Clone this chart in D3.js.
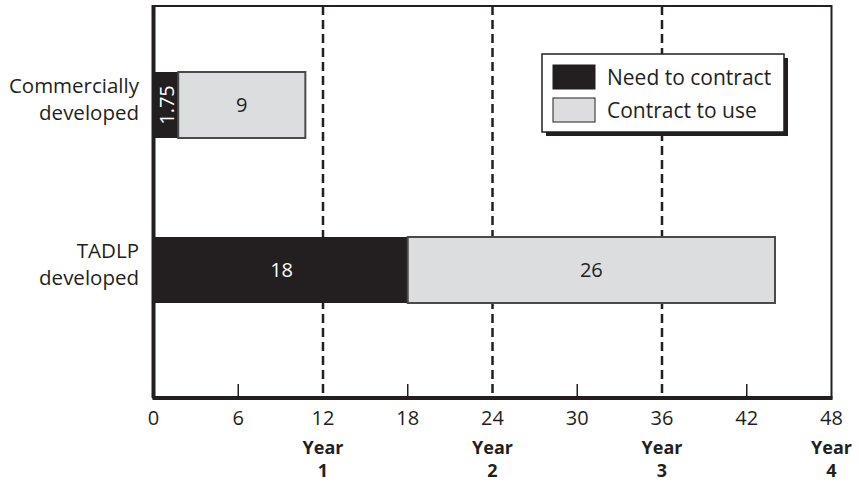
<!DOCTYPE html>
<html>
<head>
<meta charset="utf-8">
<script src="https://cdn.jsdelivr.net/npm/d3@7"></script>
<style>
body { margin: 0; background: #fff; }
text { font-family: "Open Sans", "Noto Sans", sans-serif; fill: #231f20; }
</style>
</head>
<body>
<script>
var categories = [["Commercially", "developed"], ["TADLP", "developed"]]
var needToContract = [1.75, 18]
var contractToUse = [9, 26]
var tickValues = [0, 6, 12, 18, 24, 30, 36, 42, 48]
var yearLines = [12, 24, 36]
var yearLabels = [{m: 12, t: "1"}, {m: 24, t: "2"}, {m: 36, t: "3"}, {m: 48, t: "4"}]
var legendItems = ["Need to contract", "Contract to use"]

var screen = {width: 859, height: 483}
var dark = "#231f20", light = "#dcdddf"
var fs = 20.5

var svg = d3.select("body").append("svg")
    .attr("width", screen.width)
    .attr("height", screen.height)

var plotTop = 6, plotBottom = 398
var x = d3.scaleLinear().domain([0, 48]).range([153.5, 831.5])
var y = d3.scaleBand().domain([0, 1]).range([72, 303]).paddingInner(0.6).paddingOuter(0)

// frame
svg.append("rect")
   .attr("x", x(0)).attr("y", plotTop)
   .attr("width", x(48) - x(0)).attr("height", plotBottom - plotTop)
   .attr("fill", "none").attr("stroke", dark).attr("stroke-width", 2)

// year dashed lines
svg.selectAll(".yl")
   .data(yearLines)
   .enter()
   .append("line")
   .attr("x1", function(d) {return x(d)}).attr("x2", function(d) {return x(d)})
   .attr("y1", plotTop).attr("y2", plotBottom)
   .attr("stroke", dark).attr("stroke-width", 2.5)
   .attr("stroke-dasharray", "9,5")

// bars
var bars = svg.append("g")
bars.selectAll(".need")
    .data(needToContract)
    .enter()
    .append("rect")
    .attr("x", x(0))
    .attr("y", function(d, i) {return y(i)})
    .attr("width", function(d) {return x(d) - x(0)})
    .attr("height", y.bandwidth())
    .attr("fill", dark)

bars.selectAll(".use")
    .data(contractToUse)
    .enter()
    .append("rect")
    .attr("x", function(d, i) {return x(needToContract[i])})
    .attr("y", function(d, i) {return y(i)})
    .attr("width", function(d, i) {return x(needToContract[i] + d) - x(needToContract[i])})
    .attr("height", y.bandwidth())
    .attr("fill", light)
    .attr("stroke", "#4a4a4a")
    .attr("stroke-width", 2)

// bar labels
needToContract.forEach(function(d, i) {
  var cx = (x(0) + x(d)) / 2 + 1, cy = y(i) + y.bandwidth() / 2
  var t = svg.append("text")
     .attr("font-size", 20)
     .style("fill", "#fff")
     .attr("text-anchor", "middle")
     .attr("dy", "0.36em")
     .text(d)
  if (d < 3) t.attr("transform", "translate(" + cx + "," + cy + ") rotate(-90)")
  else t.attr("x", cx).attr("y", cy)
})
contractToUse.forEach(function(d, i) {
  var s = needToContract[i]
  svg.append("text")
     .attr("x", (x(s) + x(s + d)) / 2)
     .attr("y", y(i) + y.bandwidth() / 2)
     .attr("dy", "0.36em")
     .attr("text-anchor", "middle")
     .attr("font-size", 20)
     .text(d)
})

// category labels
categories.forEach(function(c, i) {
  var cy = y(i) + y.bandwidth() / 2
  svg.append("text")
     .attr("text-anchor", "end")
     .attr("font-size", fs)
     .selectAll("tspan")
     .data(c)
     .enter()
     .append("tspan")
     .attr("x", 139)
     .attr("y", function(d, j) {return cy - 12 + j * 27})
     .text(function(d) {return d})
})

// axes
svg.append("line")
   .attr("x1", x(0) - 1).attr("x2", x(48) + 1).attr("y1", plotBottom).attr("y2", plotBottom)
   .attr("stroke", dark).attr("stroke-width", 4)
svg.append("line")
   .attr("x1", x(0)).attr("x2", x(0)).attr("y1", plotTop - 1).attr("y2", plotBottom)
   .attr("stroke", dark).attr("stroke-width", 4)

svg.selectAll(".tk")
   .data(tickValues.filter(function(d) {return d % 12 != 0}))
   .enter()
   .append("line")
   .attr("x1", function(d) {return x(d)}).attr("x2", function(d) {return x(d)})
   .attr("y1", plotBottom - 14).attr("y2", plotBottom)
   .attr("stroke", dark).attr("stroke-width", 1.5)

svg.selectAll(".tl")
   .data(tickValues)
   .enter()
   .append("text")
   .attr("x", function(d) {return x(d)})
   .attr("y", 425)
   .attr("text-anchor", "middle")
   .attr("font-size", 20)
   .text(function(d) {return d})

// "Year N" labels, two lines
var yr = svg.selectAll(".yr")
   .data(yearLabels)
   .enter()
   .append("g")
yr.append("text")
  .attr("x", function(d) {return x(d.m)}).attr("y", 454)
  .attr("text-anchor", "middle")
  .attr("font-size", 18)
  .attr("font-weight", "bold")
  .text("Year")
yr.append("text")
  .attr("x", function(d) {return x(d.m)}).attr("y", 477)
  .attr("text-anchor", "middle")
  .attr("font-size", 18)
  .attr("font-weight", "bold")
  .text(function(d) {return d.t})

// legend
var lg = svg.append("g").attr("transform", "translate(542,54)")
lg.append("rect").attr("x", 4).attr("y", 4).attr("width", 242).attr("height", 78).attr("fill", dark)
lg.append("rect").attr("x", 0).attr("y", 0).attr("width", 242).attr("height", 78)
  .attr("fill", "#fff").attr("stroke", dark).attr("stroke-width", 1.5)
lg.selectAll(".sw")
  .data(legendItems)
  .enter()
  .append("rect")
  .attr("x", 11)
  .attr("y", function(d, i) {return 11 + i * 33})
  .attr("width", 42).attr("height", 24)
  .attr("fill", function(d, i) {return i == 0 ? dark : light})
  .attr("stroke", dark).attr("stroke-width", 1)
lg.selectAll(".lt")
  .data(legendItems)
  .enter()
  .append("text")
  .attr("x", 65)
  .attr("y", function(d, i) {return 31 + i * 33})
  .attr("font-size", 21)
  .text(function(d) {return d})
</script>
</body>
</html>
